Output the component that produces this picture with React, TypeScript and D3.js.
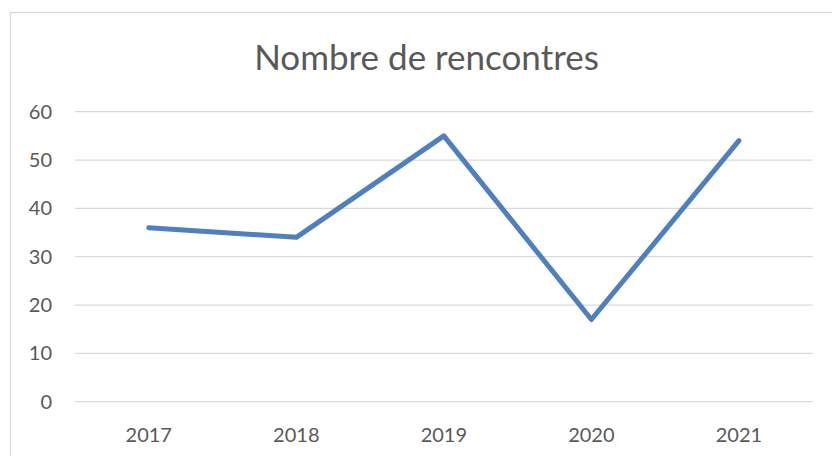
import React from "react";
import * as d3 from "d3";

const categories = ["2017", "2018", "2019", "2020", "2021"];
const values = [36, 34, 55, 17, 54];
const yTicks = [0, 10, 20, 30, 40, 50, 60];
const title = "Nombre de rencontres";

export default function App() {
  const W = 832, H = 456;
  const x = d3.scaleBand<string>().domain(categories).range([75, 812.7]);
  const y = d3.scaleLinear().domain([0, 60]).range([401.7, 111.7]);
  const line = d3
    .line<number>()
    .x((_, i) => (x(categories[i]) as number) + x.bandwidth() / 2)
    .y((d) => y(d));
  const font = "Lato, 'Open Sans', sans-serif";
  return (
    <svg
      width={W}
      height={H}
      style={{ position: "absolute", left: 0, top: 0, background: "#fff" }}
    >
      <rect x={10.5} y={12.5} width={830} height={460} fill="#fff" stroke="#d9d9d9" strokeWidth={1.3} />
      <text x={426.5} y={69.5} textAnchor="middle" fontFamily={font} fontSize={35} fill="#595959">
        {title}
      </text>
      {yTicks.map((t) => (
        <g key={t}>
          <line x1={75} x2={812.7} y1={y(t)} y2={y(t)} stroke="#d9d9d9" strokeWidth={1.3} />
          <text x={52} y={y(t)} dy="0.35em" textAnchor="end" fontFamily={font} fontSize={20} fill="#595959">
            {t}
          </text>
        </g>
      ))}
      {categories.map((c) => (
        <text key={c} x={(x(c) as number) + x.bandwidth() / 2} y={442} textAnchor="middle" fontFamily={font} fontSize={20} fill="#595959">
          {c}
        </text>
      ))}
      <path d={line(values) || ""} fill="none" stroke="#4f7fbc" strokeWidth={5} strokeLinecap="round" strokeLinejoin="round" />
    </svg>
  );
}
